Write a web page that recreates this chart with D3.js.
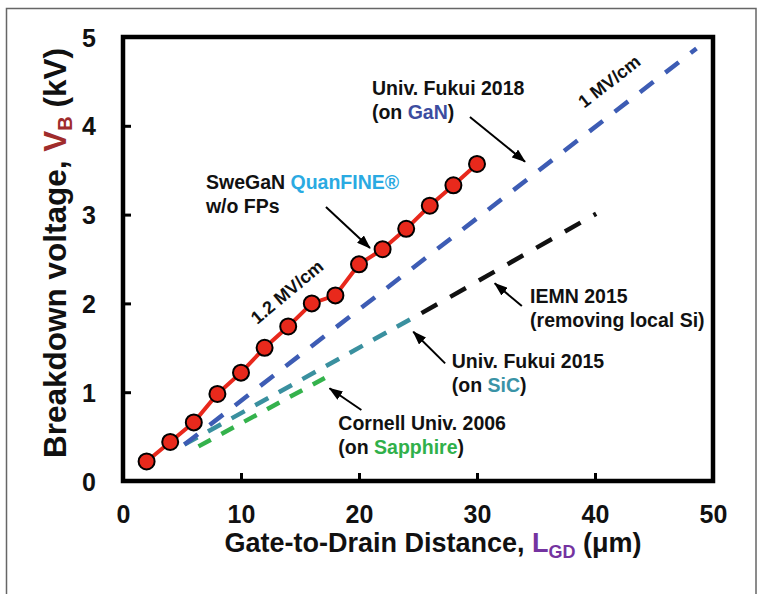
<!DOCTYPE html>
<html>
<head>
<meta charset="utf-8">
<script src="https://cdn.jsdelivr.net/npm/d3@7"></script>
<style>
  body { margin: 0; background: #fff; }
  svg { display: block; font-family: Arial, "Liberation Sans", sans-serif; font-weight: bold; }
</style>
</head>
<body>
<svg id="chart" width="758" height="594"></svg>
<script>
(function () {
    'use strict';

    // SweGaN QuanFINE measured points
    var lgd = [2, 4, 6, 8, 10, 12, 14, 16, 18, 20, 22, 24, 26, 28, 30];
    var vb = [0.22, 0.44, 0.66, 0.98, 1.22, 1.50, 1.74, 2.00, 2.09, 2.44, 2.61, 2.84, 3.10, 3.33, 3.57];

    // reference trend lines (start / end points)
    var fukui2018 = [[5.2, 0.41], [48.6, 4.87]];
    var fukui2015 = [[5.2, 0.41], [24.6, 1.84]];
    var iemn2015 = [[25.3, 1.89], [40.1, 3.01]];
    var cornell2006 = [[6.4, 0.39], [17.1, 1.16]];

    var xTicks = [0, 10, 20, 30, 40, 50];
    var yTicks = [0, 1, 2, 3, 4, 5];

    var left = 123, top = 37, w = 590, h = 444;

    var svg = d3.select('#chart');

    var x = d3.scaleLinear().domain([0, 50]).range([left, left + w]);
    var y = d3.scaleLinear().domain([0, 5]).range([top + h, top]);

    // outer frame of the figure
    svg.append('rect')
        .attr('x', 6.5).attr('y', 8.5)
        .attr('width', 749.5).attr('height', 600)
        .attr('fill', 'none')
        .attr('stroke', '#666')
        .attr('stroke-width', 1.5);

    svg.append('defs').append('marker')
        .attr('id', 'arr')
        .attr('viewBox', '0 0 14 10')
        .attr('refX', 13).attr('refY', 5)
        .attr('markerWidth', 7).attr('markerHeight', 5)
        .attr('markerUnits', 'strokeWidth')
        .attr('orient', 'auto')
        .append('path')
        .attr('d', 'M0,0L14,5L0,10z')
        .attr('fill', '#000');

    // axes, ticks pointing inward
    var xAxis = d3.axisBottom(x).tickValues(xTicks).tickFormat(d3.format('d')).tickSize(-8).tickPadding(24);
    var yAxis = d3.axisLeft(y).tickValues(yTicks).tickFormat(d3.format('d')).tickSize(-8).tickPadding(26);

    var gx = svg.append('g').attr('transform', 'translate(0,' + (top + h) + ')').call(xAxis);
    var gy = svg.append('g').attr('transform', 'translate(' + left + ',0)').call(yAxis);
    [gx, gy].forEach(function (g) {
        g.select('.domain').remove();
        g.selectAll('line').attr('stroke', '#000').attr('stroke-width', 3);
        g.selectAll('text').attr('font-size', 25).attr('font-family', 'Arial, "Liberation Sans", sans-serif')
            .attr('font-weight', 'bold').attr('fill', '#111');
    });
    gy.selectAll('text').attr('text-anchor', 'middle').attr('x', 89 - left).attr('dy', '0.36em');

    svg.append('rect')
        .attr('x', left).attr('y', top)
        .attr('width', w).attr('height', h)
        .attr('fill', 'none')
        .attr('stroke', '#000')
        .attr('stroke-width', 4.5);

    var line = d3.line().x(function (d) { return x(d[0]); }).y(function (d) { return y(d[1]); });

    function dashed(pts, color, dash) {
        svg.append('path')
            .attr('d', line(pts))
            .attr('fill', 'none')
            .attr('stroke', color)
            .attr('stroke-width', 4.5)
            .attr('stroke-dasharray', dash);
    }
    dashed(cornell2006, '#34b24c', '14,12');
    dashed(fukui2015, '#3a909f', '15,12');
    dashed(iemn2015, '#111', '18,15');
    dashed(fukui2018, '#3d5cb4', '17,15');

    var pts = lgd.map(function (d, i) { return [d, vb[i]]; });
    svg.append('path')
        .attr('d', line(pts))
        .attr('fill', 'none')
        .attr('stroke', '#e8281c')
        .attr('stroke-width', 4);
    svg.selectAll('circle.pt').data(pts).enter().append('circle')
        .attr('class', 'pt')
        .attr('cx', function (d) { return x(d[0]); })
        .attr('cy', function (d) { return y(d[1]); })
        .attr('r', 8)
        .attr('fill', '#e8291c')
        .attr('stroke', '#000')
        .attr('stroke-width', 2);

    // annotations
    function arrow(a, b) {
        svg.append('line')
            .attr('x1', x(a[0])).attr('y1', y(a[1]))
            .attr('x2', x(b[0])).attr('y2', y(b[1]))
            .attr('stroke', '#000')
            .attr('stroke-width', 2)
            .attr('marker-end', 'url(#arr)');
    }

    function label(at, lines) {
        var t = svg.append('text')
            .attr('x', x(at[0])).attr('y', y(at[1]))
            .attr('font-size', 19.5)
            .attr('fill', '#111');
        lines.forEach(function (parts, i) {
            parts.forEach(function (p, j) {
                var s = t.append('tspan').text(p[0]).attr('fill', p[1] || '#111');
                if (j === 0) {
                    s.attr('x', x(at[0])).attr('dy', i === 0 ? 0 : 24);
                }
            });
        });
    }

    label([7.03, 3.285], [[['SweGaN '], ['QuanFINE®', '#2aaae2']], [['w/o FPs']]]);
    arrow([17.2, 3.086], [20.93, 2.624]);

    label([21.1, 4.347], [[['Univ. Fukui 2018']], [['(on '], ['GaN', '#3c4da0'], [')']]]);
    arrow([29.4, 4.10], [34.07, 3.596]);

    label([34.5, 2.0], [[['IEMN 2015']], [['(removing local Si)']]]);
    arrow([33.8, 1.97], [31.5, 2.226]);

    label([27.86, 1.27], [[['Univ. Fukui 2015']], [['(on '], ['SiC', '#3a93a6'], [')']]]);
    arrow([27.3, 1.325], [24.6, 1.68]);

    label([18.25, 0.574], [[['Cornell Univ. 2006']], [['(on '], ['Sapphire', '#30b04a'], [')']]]);
    arrow([20.2, 0.80], [17.5, 1.044]);

    function slanted(at, angle, txt) {
        svg.append('text')
            .attr('transform', 'translate(' + x(at[0]) + ',' + y(at[1]) + ') rotate(' + angle + ')')
            .attr('text-anchor', 'middle')
            .attr('dy', '0.35em')
            .attr('font-size', 18)
            .attr('fill', '#111')
            .text(txt);
    }
    slanted([41.2, 4.50], -38, '1 MV/cm');
    slanted([13.9, 2.13], -40, '1.2  MV/cm');

    // axis titles
    var xt = svg.append('text')
        .attr('x', 433).attr('y', 552)
        .attr('text-anchor', 'middle')
        .attr('font-size', 27)
        .attr('fill', '#111');
    xt.append('tspan').text('Gate-to-Drain Distance, ');
    xt.append('tspan').text('L').attr('fill', '#7433a0');
    xt.append('tspan').text('GD').attr('fill', '#7433a0').attr('font-size', 18).attr('dy', 6);
    xt.append('tspan').text(' (μm)').attr('dy', -6);

    var yt = svg.append('text')
        .attr('transform', 'translate(66,253) rotate(-90)')
        .attr('text-anchor', 'middle')
        .attr('font-size', 31.5)
        .attr('fill', '#111');
    yt.append('tspan').text('Breakdown voltage, ');
    yt.append('tspan').text('V').attr('fill', '#a02c2c');
    yt.append('tspan').text('B').attr('fill', '#a02c2c').attr('font-size', 20).attr('dy', 6);
    yt.append('tspan').text(' (kV)').attr('dy', -6);
}());
</script>
</body>
</html>
